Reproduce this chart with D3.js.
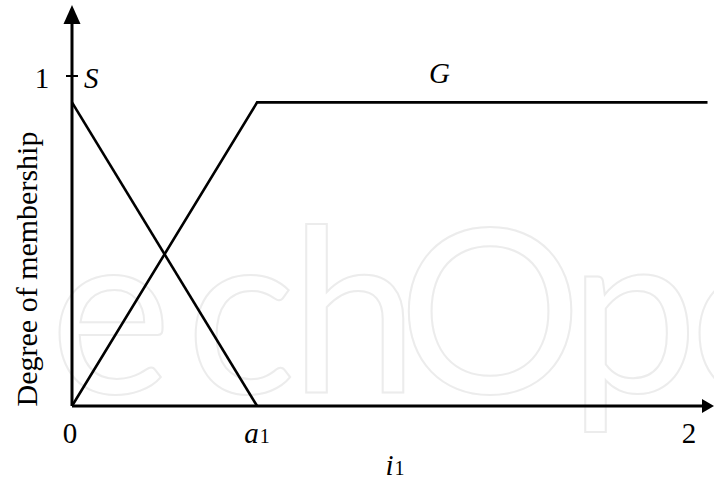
<!DOCTYPE html>
<html>
<head>
<meta charset="utf-8">
<script src="https://cdnjs.cloudflare.com/ajax/libs/d3/7.8.5/d3.min.js"></script>
<style>
  body { margin: 0; background: #fff; }
</style>
</head>
<body>
<div id="chart"></div>
<script>
// membership functions
var sX = [0, 0.6];
var sValues = [0.92, 0];
var gX = [0, 0.6, 2.06];
var gValues = [0, 0.92, 0.92];
var xTicks = [0, 0.6, 2];
var xTickLabels = ["0", "a", "2"];
var yTicks = [1];
var yTickLabels = ["1"];

var width = 714, height = 481;
var svg = d3.select("#chart")
  .append("svg")
  .attr("width", width)
  .attr("height", height);

var x = d3.scaleLinear().domain([0, 2]).range([72, 689]);
var y = d3.scaleLinear().domain([0, 1]).range([406, 76]);

function serif(sel, size) {
  return sel.style("font-family", "'Liberation Serif'")
    .style("font-size", (size || 29) + "px")
    .style("fill", "#000");
}

// watermark
svg.append("text")
  .attr("x", "-84 50 186 290 398 569 690")
  .attr("y", 393)
  .style("font-family", "Lato")
  .style("font-size", "230px")
  .style("fill", "none")
  .style("stroke", "#ececec")
  .style("stroke-width", 2)
  .text("techOpe");

// axes
var xEnd = 2.081, yEnd = 1.215;
svg.append("line")
  .attr("x1", x(0)).attr("y1", y(0))
  .attr("x2", x(xEnd) - 8).attr("y2", y(0))
  .attr("stroke", "#000").attr("stroke-width", 3);
svg.append("line")
  .attr("x1", x(0)).attr("y1", y(0))
  .attr("x2", x(0)).attr("y2", y(yEnd) + 10)
  .attr("stroke", "#000").attr("stroke-width", 3);
svg.append("path")
  .attr("d", "M" + x(xEnd) + "," + y(0) + "L" + (x(xEnd) - 12) + "," + (y(0) - 7) + "L" + (x(xEnd) - 12) + "," + (y(0) + 7) + "Z")
  .attr("fill", "#000");
svg.append("path")
  .attr("d", "M" + x(0) + "," + y(yEnd) + "L" + (x(0) - 8.5) + "," + (y(yEnd) + 19) + "L" + (x(0) + 8.5) + "," + (y(yEnd) + 19) + "Z")
  .attr("fill", "#000");

// y tick
svg.selectAll(".ytick").data(yTicks).enter()
  .append("line")
  .attr("x1", x(0) - 6).attr("x2", x(0) + 6)
  .attr("y1", function(d) { return y(d); })
  .attr("y2", function(d) { return y(d); })
  .attr("stroke", "#000").attr("stroke-width", 2);
serif(svg.selectAll(".ylab").data(yTicks).enter()
  .append("text")
  .attr("x", 42)
  .attr("y", function(d) { return y(d) + 12; })
  .attr("text-anchor", "middle"))
  .text(function(d, i) { return yTickLabels[i]; });

// x tick labels
var xl = serif(svg.selectAll(".xlab").data(xTicks).enter()
  .append("text")
  .attr("x", function(d) { return x(d) - (d == 0 ? 2 : 0); })
  .attr("y", 443)
  .attr("text-anchor", "middle"));
xl.append("tspan")
  .style("font-style", function(d, i) { return xTickLabels[i] == "a" ? "italic" : "normal"; })
  .text(function(d, i) { return xTickLabels[i]; });
xl.filter(function(d, i) { return xTickLabels[i] == "a"; })
  .append("tspan")
  .attr("dx", 1)
  .style("font-size", "20px")
  .text("1");

// x label
var xt = serif(svg.append("text")
  .attr("x", 395).attr("y", 475)
  .attr("text-anchor", "middle"));
xt.append("tspan").style("font-style", "italic").text("i");
xt.append("tspan").attr("dx", 1).style("font-size", "20px").text("1");

// y label
serif(svg.append("text")
  .attr("transform", "translate(37,269) rotate(-90)")
  .attr("text-anchor", "middle"), 30)
  .text("Degree of membership");

// membership lines
var line = d3.line()
  .x(function(d) { return x(d[0]); })
  .y(function(d) { return y(d[1]); });

svg.append("path")
  .datum(d3.zip(sX, sValues))
  .attr("d", line)
  .attr("fill", "none")
  .attr("stroke", "#000")
  .attr("stroke-width", 2.6);
svg.append("path")
  .datum(d3.zip(gX, gValues))
  .attr("d", line)
  .attr("fill", "none")
  .attr("stroke", "#000")
  .attr("stroke-width", 2.6);

// set names
serif(svg.append("text")
  .attr("x", 84).attr("y", 88))
  .style("font-style", "italic")
  .text("S");
serif(svg.append("text")
  .attr("x", 429).attr("y", 83))
  .style("font-style", "italic")
  .text("G");
</script>
</body>
</html>
